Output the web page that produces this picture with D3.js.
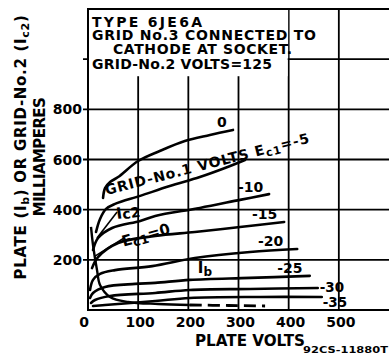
<!DOCTYPE html>
<html><head><meta charset="utf-8">
<script src="https://cdn.jsdelivr.net/npm/d3@7"></script>
<style>
body{margin:0;background:#fff}
svg{display:block}
text{font-family:"DejaVu Sans",sans-serif;font-weight:bold;fill:#000}
</style>
</head><body>
<svg id="c" width="389" height="355"></svg>
<script>
// ---- data ----
const xTicks = [0, 100, 200, 300, 400, 500];
const yTicks = [200, 400, 600, 800];
const xGrid = [100, 200, 300, 400, 500];
const yGrid = [200, 400, 600, 800, 1000];

// plate current Ib [plate volts, mA] for each grid-No.1 voltage
const ib0   = [[30,447],[34,486],[44,510],[60,530],[100,594],[143,634],[193,674],[243,698],[289,718]];
const ibM5  = [[16,311],[24,363],[36,403],[54,423],[104,455],[163,494],[223,530],[273,566],[313,598]];
const ibM10 = [[10,239],[20,287],[48,327],[104,355],[134,375],[223,407],[303,439],[361,462]];
const ibM15 = [[8,167],[20,211],[60,267],[134,295],[213,311],[303,331],[391,351]];
const ibM20 = [[4,80],[10,120],[24,144],[54,159],[128,175],[213,207],[323,231],[417,243]];
const ibM25 = [[4,48],[10,68],[34,92],[94,104],[134,108],[203,120],[323,128],[442,136]];
const ibM30 = [[6,28],[14,40],[44,56],[134,68],[203,80],[323,84],[458,88]];
const ibM35 = [[10,16],[34,20],[134,36],[203,48],[343,52],[466,52]];
// grid-No.2 current Ic2 (Ec1 = 0)
const ic2Solid  = [[6,331],[10,259],[18,159],[24,100],[44,52],[80,32],[140,24],[203,20]];
const ic2Dashed = [[203,20],[280,18],[353,16]];

const curveNames = ["0", "-10", "-15", "-20", "-25", "-30", "-35"];
const curveLabelAt = [[267,730],[299,470],[327,363],[339,255],[377,148],[462,72],[468,10]];

const titleLines = ["TYPE 6JE6A", "GRID  No.3 CONNECTED TO", "CATHODE AT SOCKET.", "GRID-No.2 VOLTS=125"];

// ---- scales ----
const x = d3.scaleLinear().domain([0, 600]).range([88, 389]);
const y = d3.scaleLinear().domain([0, 1200]).range([310, 9]);

const svg = d3.select("#c");
svg.append("rect").attr("width", 389).attr("height", 355).attr("fill", "#fff");

const g = svg.append("g");
// grid
g.selectAll(".vg").data(xGrid).join("line")
  .attr("x1", d => x(d)).attr("x2", d => x(d))
  .attr("y1", y(1200)).attr("y2", y(0))
  .attr("stroke", "#000").attr("stroke-width", 1.8);
g.selectAll(".hg").data(yGrid).join("line")
  .attr("x1", x(0) - 5).attr("x2", x(600))
  .attr("y1", d => y(d)).attr("y2", d => y(d))
  .attr("stroke", "#000").attr("stroke-width", 1.8);

// white title box
svg.append("rect").attr("x", x(0) + 1).attr("y", y(1200) + 1)
  .attr("width", x(399) - x(0) - 1).attr("height", y(1000) - y(1200) - 2).attr("fill", "#fff");
svg.append("rect").attr("x", x(0) + 1).attr("y", y(1200) + 1)
  .attr("width", x(398) - x(0) - 1).attr("height", y(936) - y(1200)).attr("fill", "#fff");

// frame
svg.append("path")
  .attr("d", `M${x(600)},${y(1200)}H${x(0)}V${y(0)}H${x(600)}`)
  .attr("fill", "none").attr("stroke", "#000").attr("stroke-width", 2);

// curves
const line = d3.line().x(d => x(d[0])).y(d => y(d[1])).curve(d3.curveCatmullRom.alpha(0.5));
[ib0, ibM5, ibM10, ibM15, ibM20, ibM25, ibM30, ibM35].forEach(s => {
  svg.append("path").attr("d", line(s)).attr("fill", "none")
    .attr("stroke", "#000").attr("stroke-width", 2.6).attr("stroke-linecap", "round");
});
svg.append("path").attr("d", line(ic2Solid)).attr("fill", "none")
  .attr("stroke", "#000").attr("stroke-width", 2.4);
svg.append("path").attr("d", line(ic2Dashed)).attr("fill", "none")
  .attr("stroke", "#000").attr("stroke-width", 2.8).attr("stroke-dasharray", "12,6");

// leader lines for Ic2 / Ec1=0
const leaders = [[[58,391],[18,287]], [[72,287],[14,215]]];
leaders.forEach(l => svg.append("line")
  .attr("x1", x(l[0][0])).attr("y1", y(l[0][1]))
  .attr("x2", x(l[1][0])).attr("y2", y(l[1][1]))
  .attr("stroke", "#000").attr("stroke-width", 1.6));

// title text
const tPos = [[92, 27, 110], [92, 40, 224], [113, 54, 179], [92, 69, 180]];
titleLines.forEach((t, i) => {
  svg.append("text").attr("x", tPos[i][0]).attr("y", tPos[i][1])
    .attr("font-size", 14).attr("textLength", tPos[i][2]).attr("lengthAdjust", "spacing").text(t);
});

// tick labels
svg.selectAll(".yl").data(yTicks).join("text")
  .attr("x", x(0) - 6).attr("y", d => y(d) + 5).attr("text-anchor", "end")
  .attr("font-size", 14).text(d => d);
svg.selectAll(".xl").data(xTicks).join("text")
  .attr("x", d => x(d) + (d === 0 ? -4 : 2)).attr("y", 327).attr("text-anchor", "middle")
  .attr("font-size", 14).text(d => d);

// axis titles
svg.append("text").attr("x", 250).attr("y", 346).attr("text-anchor", "middle")
  .attr("font-size", 16).attr("textLength", 110).attr("lengthAdjust", "spacingAndGlyphs").text("PLATE VOLTS");
svg.append("text").attr("x", 303).attr("y", 353)
  .attr("font-size", 9.5).attr("textLength", 85).attr("lengthAdjust", "spacingAndGlyphs").text("92CS-11880T");

const yt = svg.append("text").attr("transform", "translate(26,147) rotate(-90)")
  .attr("text-anchor", "middle").attr("font-size", 15).attr("letter-spacing", 0.7);
yt.append("tspan").text("PLATE (I");
yt.append("tspan").attr("font-size", 11).attr("dy", 3).text("b");
yt.append("tspan").attr("dy", -3).text(") OR GRID-No.2 (I");
yt.append("tspan").attr("font-size", 11).attr("dy", 3).text("c2");
yt.append("tspan").attr("dy", -3).text(")");
svg.append("text").attr("transform", "translate(45,157) rotate(-90)")
  .attr("text-anchor", "middle").attr("font-size", 15).attr("letter-spacing", -0.6).text("MILLIAMPERES");

// curve labels
curveNames.forEach((n, i) => {
  svg.append("text").attr("x", x(curveLabelAt[i][0])).attr("y", y(curveLabelAt[i][1]))
    .attr("font-size", i >= 5 ? 13.5 : 14).attr("text-anchor", i === 0 ? "middle" : "start").text(n);
});
// Ib label
const ibl = svg.append("text").attr("x", x(219)).attr("y", y(148)).attr("font-size", 15);
ibl.append("tspan").text("I");
ibl.append("tspan").attr("font-size", 12).attr("dy", 3).text("b");

// Ec1 = -5 rotated label
const l5 = svg.append("text").attr("transform", `translate(${x(37)},${y(458)}) rotate(-14.5)`)
  .attr("font-size", 14).attr("letter-spacing", 0.9);
l5.append("tspan").text("GRID-No.1 VOLTS E");
l5.append("tspan").attr("font-size", 11).attr("dy", 3).text("c1");
l5.append("tspan").attr("dy", -3).text("=-5");

// Ic2 label
const li = svg.append("text").attr("transform", `translate(${x(58)},${y(363)}) rotate(-8)`).attr("font-size", 15.5);
li.append("tspan").text("I");
li.append("tspan").attr("font-size", 14).attr("dy", 1).text("c2");

// Ec1=0 label
const le = svg.append("text").attr("transform", `translate(${x(71)},${y(252)}) rotate(-16)`).attr("font-size", 15);
le.append("tspan").text("E");
le.append("tspan").attr("font-size", 12.5).attr("dy", 3).text("c1");
le.append("tspan").attr("dy", -3).text("=0");
</script>
</body></html>
